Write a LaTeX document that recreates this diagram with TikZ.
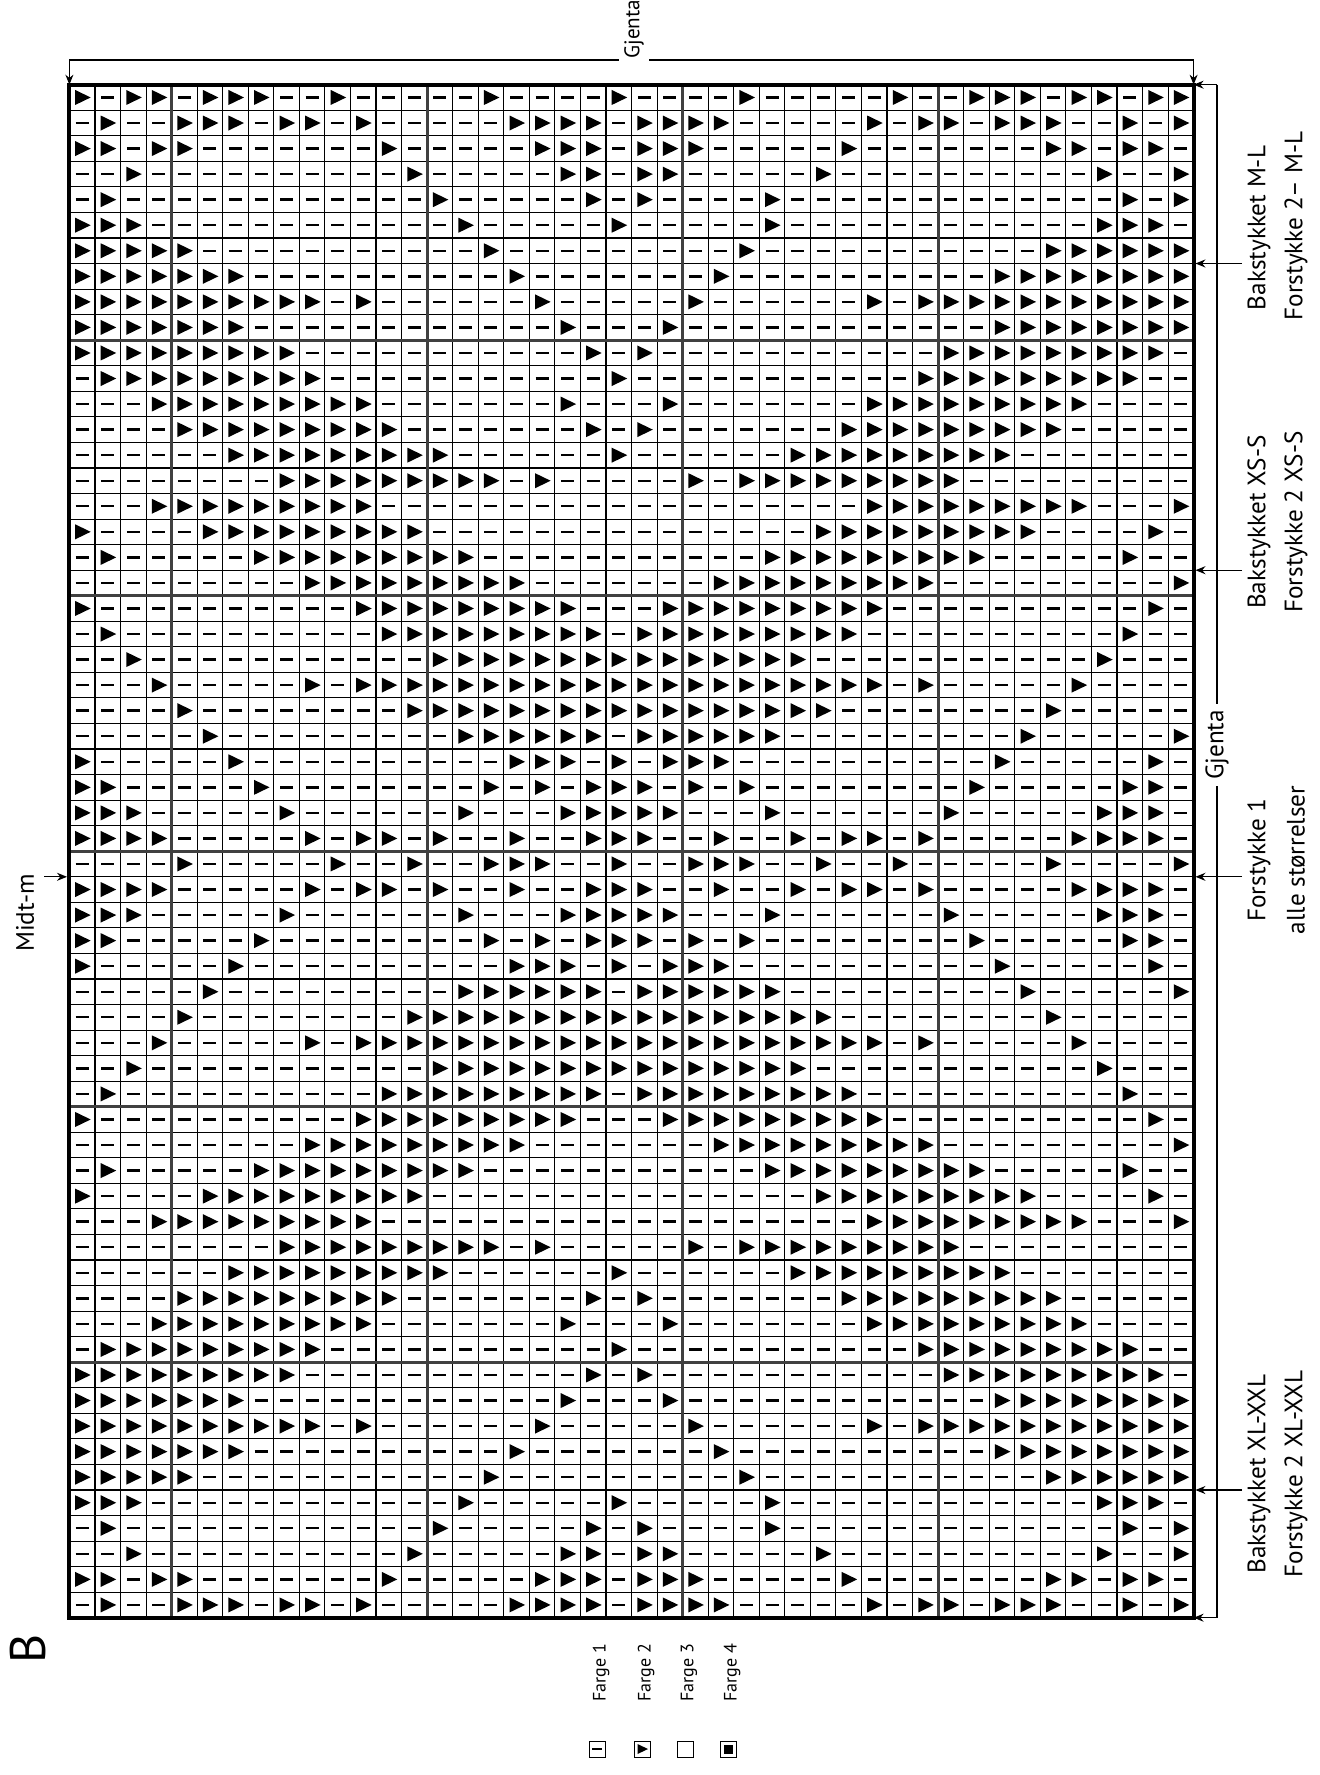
\documentclass[tikz,border=0pt]{standalone}
\usepackage{fontspec}
\setmainfont{PT Sans}
\usetikzlibrary{arrows.meta}
\newcount\colc
\newcount\rowc
\def\GL{69.4}
\def\GT{84.7}
\def\CS{25.55}
\def\drawtri{%
  \pgfmathsetmacro\cx{\GL+(\the\colc-0.5)*\CS}%
  \pgfmathsetmacro\cy{\GT+(\the\rowc-0.5)*\CS}%
  \fill[black] (\cx-7,\cy-7.5) -- (\cx+8.5,\cy) -- (\cx-7,\cy+7.5) -- cycle;}
\def\drawdash{%
  \pgfmathsetmacro\cx{\GL+(\the\colc-0.5)*\CS}%
  \pgfmathsetmacro\cy{\GT+(\the\rowc-0.5)*\CS}%
  \draw[line width=1.2pt] (\cx-6.5,\cy) -- (\cx+6.5,\cy);}
\def\parsecells#1{%
  \ifx\relax#1\else
    \global\advance\colc by 1
    \ifx x#1\drawtri\else\drawdash\fi
    \expandafter\parsecells
  \fi}
\def\processrow#1{\global\colc=0 \parsecells#1\relax}
\begin{document}
\begin{tikzpicture}[x=0.5pt,y=-0.5pt,
  lbl/.style={rotate=90,font=\fontsize{12.6}{14}\selectfont,inner sep=0pt},
  leg/.style={rotate=90,font=\fontsize{9}{11}\selectfont,inner sep=0pt},
  thinln/.style={line width=0.55pt,black},
  thickln/.style={line width=1.5pt,black!75},
  dim/.style={line width=0.6pt},
  arr/.style={-{Stealth[length=5pt,width=4pt]},line width=0.6pt}]
\useasboundingbox[fill=white] (0,0) rectangle (1320,1775);
% cells
\foreach \r/\s in {
1/x-xx -xxx--x--- --x----x-- --x-----x- -xxx-xx-xx,
2/-x-- xxx-xx-x-- ---xxxx-xx xx-----x-x x-xxx--x-x,
3/xx-x x-------x- ----xxx-xx x-----x--- ----xx-xx-,
4/--x- ---------x -----xx-xx -----x---- ------x--x,
5/-x-- ---------- x-----x-x- ---x------ -------x-x,
6/xxx- ---------- -x-----x-- ---x------ ------xxx-,
7/xxxx x--------- --x------- --x------- ----xxxxxx,
8/xxxx xxx------- ---x------ -x-------- --xxxxxxxx,
9/xxxx xxxxxx-x-- ----x----- x------x-x xxxxxxxxxx,
10/xxxx xxx------- -----x---x ---------- --xxxxxxxx,
11/xxxx xxxxx----- ------x-x- ---------- xxxxxxxxx-,
12/-xxx xxxxxx---- -------x-- ---------x xxxxxxxx--,
13/---x xxxxxxxx-- -----x---x -------xxx xxxxxx----,
14/---- xxxxxxxxx- ------x-x- ------xxxx xxxxx-----,
15/---- --xxxxxxxx x------x-- ----xxxxxx xxx-------,
16/---- ----xxxxxx xxx-x----- x-xxxxxxxx x---------,
17/---x xxxxxxxx-- ---------- -------xxx xxxxxx---x,
18/x--- -xxxxxxxxx ---------- -----xxxxx xxxx----x-,
19/-x-- ---xxxxxxx xx-------- ---xxxxxxx xx-----x--,
20/---- -----xxxxx xxxx------ -xxxxxxxxx ---------x,
21/x--- -------xxx xxxxxx---x xxxxxxxx-- --------x-,
22/-x-- --------xx xxxxxxx-xx xxxxxxx--- -------x--,
23/--x- ---------- xxxxxxxxxx xxxxx----- ------x---,
24/---x -----x-xxx xxxxxxxxxx xxxxxxxx-x -----x----,
25/---- x--------x xxxxxxxxxx xxxxxx---- ----x-----,
26/---- -x-------- -xxxxxx-xx xxxx------ ---x-----x,
27/x--- --x------- ---xxx-x-x xx-------- --x-----x-,
28/xx-- ---x------ --x-x-xxx- x-x------- -x-----xx-,
29/xxx- ----x----- -x---xxxxx ---x------ x-----xxx-,
30/xxxx -----x-xx- x--x--xxx- -x--x-xx-x -----xxxx-,
31/---- x-----x--x --xxx--x-- xxx--x--x- ----x----x}{%
  \global\rowc=\r\relax
  \expandafter\processrow\expandafter{\s}%
  \ifnum\r>1 \ifnum\r<31 \global\rowc=\numexpr62-\r\relax\expandafter\processrow\expandafter{\s}\fi\fi
}
% grid
\foreach \i in {0,...,44} \draw[thinln] (\GL+\i*\CS,\GT) -- (\GL+\i*\CS,\GT+1533);
\foreach \j in {0,...,60} \draw[thinln] (\GL,\GT+\j*\CS) -- (\GL+1124.2,\GT+\j*\CS);
\foreach \i in {4,14,24,34} \draw[thickln] (\GL+\i*\CS,\GT) -- (\GL+\i*\CS,\GT+1533);
\foreach \j in {10,20,30,40,50} \draw[thickln] (\GL,\GT+\j*\CS) -- (\GL+1124.2,\GT+\j*\CS);
\draw[line width=2pt] (\GL,\GT) rectangle (\GL+1124.2,\GT+1533);
% grid corners
\coordinate (gtl) at (\GL,\GT);
\coordinate (gtr) at (\GL+1124.2,\GT);
\coordinate (gbr) at (\GL+1124.2,\GT+1533);
% top repeat bracket
\coordinate (ta) at (\GL,60);
\coordinate (tb) at (\GL+1124.2,60);
\coordinate (tga) at (619,60);
\coordinate (tgb) at (649,60);
\node[lbl,font=\fontsize{10.6}{12}\selectfont,anchor=west] (gjtop) at (634,59) {Gjenta};
\draw[dim] (ta) -- (tga);
\draw[dim] (tgb) -- (tb);
\draw[arr] (ta) -- (gtl);
\draw[arr] (tb) -- (gtr);
% right repeat bracket
\coordinate (ra) at (1217,\GT);
\coordinate (rb) at (1217,\GT+1533);
\node[lbl,fill=white,inner sep=3pt] (gjright) at (1217,745) {Gjenta};
\draw[dim] (ra) -- (gjright.east);
\draw[dim] (gjright.west) -- (rb);
\draw[arr] (ra) -- (gtr);
\draw[arr] (rb) -- (gbr);
% size markers
\foreach \nm/\yy in {ml/263.5,xss/570.2,f1/876.8,xl/1490}{
  \coordinate (\nm a) at (1242,\yy);
  \coordinate (\nm b) at (\GL+1126,\yy);
  \draw[arr] (\nm a) -- (\nm b);
}
\node[lbl] (ml1) at (1259,228) {Bakstykket M-L};
\node[lbl] (ml2) at (1296,226) {Forstykke 2– M-L};
\node[lbl] (xs1) at (1259,522) {Bakstykket XS-S};
\node[lbl] (xs2) at (1296,522) {Forstykke 2 XS-S};
\node[lbl] (f11) at (1259,860) {Forstykke 1};
\node[lbl] (f12) at (1296,860) {alle størrelser};
\node[lbl] (xl1) at (1259,1474) {Bakstykket XL-XXL};
\node[lbl] (xl2) at (1296,1474) {Forstykke 2 XL-XXL};
% middle stitch marker
\node[lbl] (midt) at (25,913) {Midt-m};
\coordinate (midta) at (44,876.8);
\coordinate (midtb) at (67,876.8);
\draw[arr] (midta) -- (midtb);
% chart letter
\node[rotate=90,font=\fontsize{25}{27}\selectfont,inner sep=0pt] (chB) at (28,1649) {B};
% legend
\foreach \k/\xx in {1/597,2/642,3/685,4/728}{
  \node[leg] (fg\k) at (\xx+4,1673) {Farge \k};
  \node[draw,line width=0.5pt,minimum size=8pt,inner sep=0pt] (box\k) at (\xx,1749) {};
}
\draw[line width=1pt] (597-5,1749) -- (597+5,1749);
\fill (642-4.5,1749-5) -- (642+6,1749) -- (642-4.5,1749+5) -- cycle;
\fill (728-4.5,1749-4.5) rectangle (728+4.5,1749+4.5);
\end{tikzpicture}
\end{document}
